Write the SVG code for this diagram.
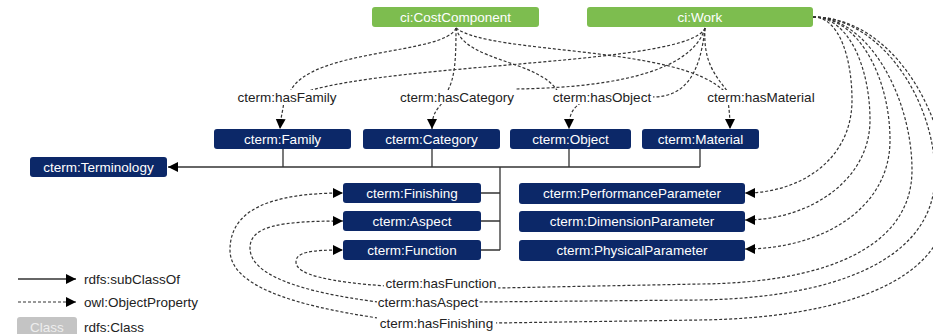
<svg xmlns="http://www.w3.org/2000/svg" width="933" height="334" viewBox="0 0 933 334">
  <defs>
    <style>
      .cls rect { fill: #0c2868; }
      .cls text, .ext text { fill: #ffffff; font-family: "Liberation Sans", Arial, sans-serif; font-size: 13.5px; text-anchor: middle; }
      .ext rect { fill: #7dbd4f; }
      .sub { fill: none; stroke: #333333; stroke-width: 1.3; }
      .prop { fill: none; stroke: #333333; stroke-width: 1.2; stroke-dasharray: 3 2; }
      .lbl rect { fill: #ffffff; }
      .lbl text, .legend text { fill: #222222; font-family: "Liberation Sans", Arial, sans-serif; font-size: 13.5px; }
      .lbl text { text-anchor: middle; }
    </style>
    <marker id="arrow" markerUnits="userSpaceOnUse" markerWidth="11" markerHeight="11" refX="10" refY="5" orient="auto">
      <path d="M0,0 L10,5 L0,10 Z" fill="#000000"/>
    </marker>
  </defs>
  <rect width="933" height="334" fill="#ffffff"/>

  <!-- connectors -->
  <g id="connectors">
    <!-- subclass tree -->
    <path class="sub" d="M283,149 V167 M432,149 V167 M569,149 V167 M700,149 V167 M500,167 V250 M481,193 H500 M481,221 H500 M481,250 H500"/>
    <path class="sub" d="M700,167 H168" marker-end="url(#arrow)"/>

    <!-- ci:CostComponent properties -->
    <path class="prop" d="M456,28 C445,55 310,48 290,92"/>
    <path class="prop" d="M456,28 C456,60 455,78 447,92"/>
    <path class="prop" d="M456,28 C465,62 540,60 558,92"/>
    <path class="prop" d="M456,28 C490,55 680,45 725,92"/>

    <!-- ci:Work properties (top) -->
    <path class="prop" d="M705,28 C690,65 400,62 305,92"/>
    <path class="prop" d="M705,28 C690,78 590,88 515,89"/>
    <path class="prop" d="M705,28 C700,75 685,97 652,97"/>
    <path class="prop" d="M705,28 C703,62 715,75 728,92"/>

    <!-- label to range -->
    <path class="prop" d="M284,100 C283,112 281,114 280,129" marker-end="url(#arrow)"/>
    <path class="prop" d="M445,100 C436,110 432,114 432,129" marker-end="url(#arrow)"/>
    <path class="prop" d="M585,100 C572,108 569,114 569,129" marker-end="url(#arrow)"/>
    <path class="prop" d="M728,100 C729,110 730,115 730,129" marker-end="url(#arrow)"/>

    <!-- ci:Work properties (right) -->
    <path class="prop" d="M813,17 C840,17 852,60 852,100 C852,160 800,193 745,193" marker-end="url(#arrow)"/>
    <path class="prop" d="M813,17 C850,17 870,70 870,120 C870,180 810,220 745,220" marker-end="url(#arrow)"/>
    <path class="prop" d="M813,17 C860,17 890,80 890,140 C890,210 820,249 745,249" marker-end="url(#arrow)"/>
    <path class="prop" d="M813,17 C870,17 912,100 912,170 C912,250 820,283 700,284 L497,288"/>
    <path class="prop" d="M813,17 C880,17 935,100 935,175 C935,262 830,298 700,300 L478,302"/>
    <path class="prop" d="M813,17 C890,17 948,110 948,200 C948,282 840,318 700,320 L495,323"/>

    <!-- label to range (left loops) -->
    <path class="prop" d="M386,286 C330,282 296,275 296,262 C296,252 310,250 343,250" marker-end="url(#arrow)"/>
    <path class="prop" d="M378,302 C300,292 250,275 250,248 C250,226 280,221 343,221" marker-end="url(#arrow)"/>
    <path class="prop" d="M378,318 C290,305 230,285 230,250 C230,210 270,193 343,193" marker-end="url(#arrow)"/>
  </g>

  <!-- property labels -->
  <g id="labels" class="lbl">
    <g id="lbl-hasFamily"><rect x="236" y="90" width="102" height="14"/><text x="287" y="101.7">cterm:hasFamily</text></g>
    <g id="lbl-hasCategory"><rect x="398" y="90" width="118" height="14"/><text x="457" y="101.7">cterm:hasCategory</text></g>
    <g id="lbl-hasObject"><rect x="551" y="90" width="102" height="14"/><text x="602" y="101.7">cterm:hasObject</text></g>
    <g id="lbl-hasMaterial"><rect x="705" y="90" width="112" height="14"/><text x="761" y="101.7">cterm:hasMaterial</text></g>
    <g id="lbl-hasFunction"><rect x="384" y="276" width="114" height="14"/><text x="441" y="287.7">cterm:hasFunction</text></g>
    <g id="lbl-hasAspect"><rect x="377" y="295" width="102" height="14"/><text x="428" y="306.7">cterm:hasAspect</text></g>
    <g id="lbl-hasFinishing"><rect x="377" y="316" width="119" height="14"/><text x="436.5" y="327.7">cterm:hasFinishing</text></g>
  </g>

  <!-- external classes -->
  <g id="ci-CostComponent" class="ext"><rect x="372" y="7" width="167" height="20" rx="3"/><text x="455.5" y="21.7">ci:CostComponent</text></g>
  <g id="ci-Work" class="ext"><rect x="587" y="7" width="226" height="20" rx="3"/><text x="700" y="21.7">ci:Work</text></g>

  <!-- terminology classes -->
  <g id="cterm-Family" class="cls"><rect x="214" y="129" width="137" height="20" rx="3"/><text x="282.5" y="143.7">cterm:Family</text></g>
  <g id="cterm-Category" class="cls"><rect x="363" y="129" width="137" height="20" rx="3"/><text x="431.5" y="143.7">cterm:Category</text></g>
  <g id="cterm-Object" class="cls"><rect x="510" y="129" width="121" height="20" rx="3"/><text x="570.5" y="143.7">cterm:Object</text></g>
  <g id="cterm-Material" class="cls"><rect x="642" y="129" width="117" height="20" rx="3"/><text x="700.5" y="143.7">cterm:Material</text></g>
  <g id="cterm-Terminology" class="cls"><rect x="30" y="157" width="137" height="20" rx="3"/><text x="98.5" y="171.7">cterm:Terminology</text></g>
  <g id="cterm-Finishing" class="cls"><rect x="343" y="183" width="138" height="20" rx="3"/><text x="412" y="197.7">cterm:Finishing</text></g>
  <g id="cterm-Aspect" class="cls"><rect x="343" y="211" width="138" height="20" rx="3"/><text x="412" y="225.7">cterm:Aspect</text></g>
  <g id="cterm-Function" class="cls"><rect x="343" y="240" width="138" height="20" rx="3"/><text x="412" y="254.7">cterm:Function</text></g>
  <g id="cterm-PerformanceParameter" class="cls"><rect x="519" y="183" width="226" height="21" rx="3"/><text x="632" y="198.2">cterm:PerformanceParameter</text></g>
  <g id="cterm-DimensionParameter" class="cls"><rect x="519" y="211" width="226" height="21" rx="3"/><text x="632" y="226.2">cterm:DimensionParameter</text></g>
  <g id="cterm-PhysicalParameter" class="cls"><rect x="519" y="240" width="226" height="21" rx="3"/><text x="632" y="255.2">cterm:PhysicalParameter</text></g>

  <!-- legend -->
  <g id="legend" class="legend">
    <path class="sub" d="M18,279 H76" marker-end="url(#arrow)"/>
    <text x="84" y="283.7">rdfs:subClassOf</text>
    <path class="prop" d="M18,302 H76" marker-end="url(#arrow)"/>
    <text x="84" y="306.7">owl:ObjectProperty</text>
    <rect x="17" y="317" width="60" height="22" rx="3" fill="#c4c4c4"/>
    <text x="47" y="331.7" fill="#eeeeee" text-anchor="middle" style="fill:#eeeeee">Class</text>
    <text x="84" y="331.7">rdfs:Class</text>
  </g>
</svg>
